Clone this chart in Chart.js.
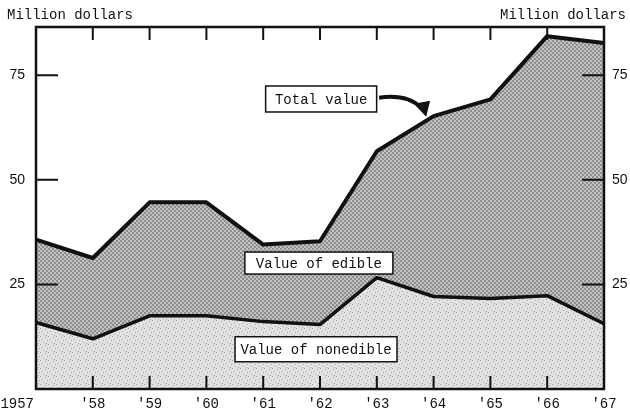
<!DOCTYPE html>
<html lang="en">
<head>
    <meta charset="UTF-8">
    <title>Value of edible and nonedible</title>
    <style>
        body {
            margin: 0;
            padding: 0;
            background-color: #fff;
        }

        .chart-box {
            width: 630px;
            height: 411px;
        }
    </style>
</head>
<body>
    <div class="chart-box">
        <canvas id="valueChart" width="630" height="411"></canvas>
    </div>

    <script src="https://cdn.jsdelivr.net/npm/chart.js"></script>
    <script>
        // data (million dollars)
        const years = ["1957", "'58", "'59", "'60", "'61", "'62", "'63", "'64", "'65", "'66", "'67"];
        const nonedibleValues = [15.9, 12.0, 17.5, 17.5, 16.1, 15.4, 26.6, 22.1, 21.6, 22.3, 15.6];
        const totalValues = [35.7, 31.3, 44.6, 44.6, 34.5, 35.3, 56.8, 65.2, 69.2, 84.3, 82.7];
        const yTicks = [25, 50, 75];
        const yMax = 86.5;

        const canvas = document.getElementById("valueChart");
        const ctx = canvas.getContext("2d");

        // halftone-ish fills
        function makePattern(size, base, dot, spots, cell) {
            const c = document.createElement("canvas");
            c.width = size;
            c.height = size;
            const g = c.getContext("2d");
            g.fillStyle = base;
            g.fillRect(0, 0, size, size);
            g.fillStyle = dot;
            spots.forEach(p => g.fillRect(p[0], p[1], cell, cell));
            return ctx.createPattern(c, "repeat");
        }

        const darkFill = makePattern(4, "#c2c2c2", "#8e8e8e", [[0, 0], [2, 2]], 2);
        const lightFill = makePattern(8, "#e2e2e2", "#a6a6a6", [[0, 0], [5, 1], [2, 3], [7, 4], [3, 6], [6, 7]], 1);

        const labels = [
            { text: "Total value", x: 5.02, y: 69.3, w: 111, h: 26 },
            { text: "Value of edible", x: 4.98, y: 30.1, w: 148, h: 22 },
            { text: "Value of nonedible", x: 4.93, y: 9.5, w: 162, h: 25 }
        ];

        const decorPlugin = {
            id: "decor",
            afterDatasetsDraw(chart) {
                const c = chart.ctx;
                const area = chart.chartArea;
                const xs = chart.scales.x;
                const ys = chart.scales.y;

                c.save();
                c.strokeStyle = "#111";

                // inner ticks on the y sides
                c.lineWidth = 2;
                yTicks.forEach(v => {
                    const py = ys.getPixelForValue(v);
                    c.beginPath();
                    c.moveTo(area.left, py);
                    c.lineTo(area.left + 22, py);
                    c.moveTo(area.right - 22, py);
                    c.lineTo(area.right, py);
                    c.stroke();
                });

                // inner ticks top and bottom
                for (let i = 1; i < years.length - 1; i++) {
                    const px = xs.getPixelForValue(i);
                    c.beginPath();
                    c.moveTo(px, area.bottom);
                    c.lineTo(px, area.bottom - 13);
                    c.moveTo(px, area.top);
                    c.lineTo(px, area.top + 13);
                    c.stroke();
                }

                // frame
                c.lineWidth = 2.5;
                c.strokeRect(area.left, area.top, area.right - area.left, area.bottom - area.top);

                // year labels
                c.fillStyle = "#111";
                c.font = "14px 'Liberation Mono', monospace";
                c.textBaseline = "middle";
                years.forEach((y, i) => {
                    const px = xs.getPixelForValue(i);
                    if (i === 0) {
                        c.textAlign = "right";
                        c.fillText(y, px - 2, area.bottom + 15);
                    } else {
                        c.textAlign = "center";
                        c.fillText(y, px, area.bottom + 15);
                    }
                });

                // axis titles
                c.textAlign = "left";
                c.fillText("Million dollars", 7, 15);
                c.textAlign = "right";
                c.fillText("Million dollars", 626, 15);

                // label boxes
                labels.forEach(l => {
                    const cx = xs.getPixelForValue(l.x);
                    const cy = ys.getPixelForValue(l.y);
                    c.fillStyle = "#fff";
                    c.fillRect(cx - l.w / 2, cy - l.h / 2, l.w, l.h);
                    c.lineWidth = 1.5;
                    c.strokeRect(cx - l.w / 2, cy - l.h / 2, l.w, l.h);
                    c.fillStyle = "#111";
                    c.textAlign = "center";
                    c.fillText(l.text, cx, cy + 1);
                });

                // curved arrow to the total line
                const ax = xs.getPixelForValue(6.04);
                const ay = ys.getPixelForValue(69.6);
                const bx = xs.getPixelForValue(6.78);
                const by = ys.getPixelForValue(67.2);
                c.lineWidth = 4;
                c.beginPath();
                c.moveTo(ax, ay);
                c.quadraticCurveTo(ax + 28, ay - 4, bx, by);
                c.stroke();
                c.beginPath();
                c.moveTo(bx - 7, by - 4);
                c.lineTo(bx + 9, by - 7);
                c.lineTo(bx + 5, by + 9);
                c.closePath();
                c.fill();

                c.restore();
            }
        };

        new Chart(ctx, {
            type: "line",
            data: {
                labels: years,
                datasets: [{
                    label: "Value of nonedible",
                    data: nonedibleValues,
                    borderColor: "#111",
                    borderWidth: 3.5,
                    backgroundColor: lightFill,
                    fill: "origin",
                    pointRadius: 0,
                    tension: 0,
                    borderJoinStyle: "round"
                }, {
                    label: "Total value",
                    data: totalValues,
                    borderColor: "#111",
                    borderWidth: 4,
                    backgroundColor: darkFill,
                    fill: "-1",
                    pointRadius: 0,
                    tension: 0,
                    borderJoinStyle: "round"
                }]
            },
            options: {
                responsive: false,
                animation: false,
                layout: {
                    padding: { top: 27, left: 0, right: 0, bottom: 0 }
                },
                plugins: {
                    legend: { display: false },
                    tooltip: { enabled: false }
                },
                scales: {
                    x: {
                        offset: false,
                        grid: { display: false },
                        border: { display: false },
                        ticks: { display: false },
                        afterFit: s => { s.height = 22; }
                    },
                    y: {
                        position: "left",
                        min: 0,
                        max: yMax,
                        grid: { display: false },
                        border: { display: false },
                        afterBuildTicks: s => { s.ticks = yTicks.map(v => ({ value: v })); },
                        ticks: {
                            padding: 3,
                            color: "#111",
                            font: { family: "'Liberation Sans', sans-serif", size: 14 }
                        },
                        afterFit: s => { s.width = 36; }
                    },
                    y2: {
                        position: "right",
                        min: 0,
                        max: yMax,
                        grid: { display: false },
                        border: { display: false },
                        afterBuildTicks: s => { s.ticks = yTicks.map(v => ({ value: v })); },
                        ticks: {
                            padding: 0,
                            color: "#111",
                            font: { family: "'Liberation Sans', sans-serif", size: 14 }
                        },
                        afterFit: s => { s.width = 26; }
                    }
                }
            },
            plugins: [decorPlugin]
        });
    </script>
</body>
</html>
